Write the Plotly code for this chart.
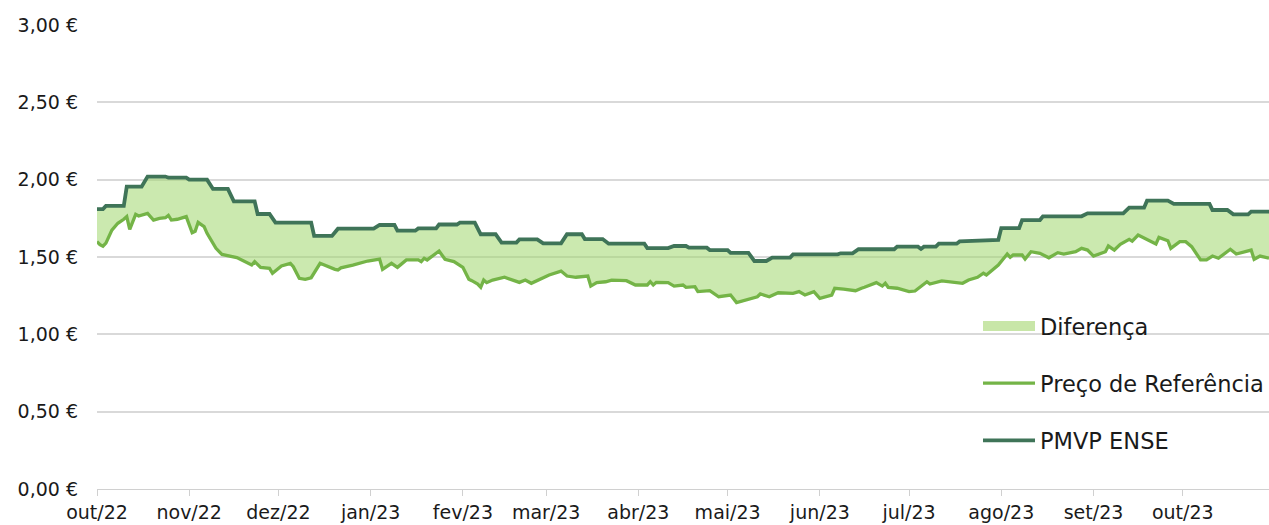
import plotly.graph_objects as go

# ---------------- data ----------------
# Preço de Referência (daily reference price)
ref_dates = [
    "2022-10-01", "2022-10-02", "2022-10-03", "2022-10-04", "2022-10-06", "2022-10-08",
    "2022-10-10", "2022-10-11", "2022-10-12", "2022-10-14", "2022-10-15", "2022-10-18",
    "2022-10-20", "2022-10-22", "2022-10-24", "2022-10-25", "2022-10-26", "2022-10-28",
    "2022-10-31", "2022-11-02", "2022-11-03", "2022-11-04", "2022-11-06", "2022-11-07",
    "2022-11-10", "2022-11-12", "2022-11-17", "2022-11-20", "2022-11-22", "2022-11-23",
    "2022-11-25", "2022-11-28", "2022-11-29", "2022-12-02", "2022-12-05", "2022-12-06",
    "2022-12-08", "2022-12-10", "2022-12-12", "2022-12-15", "2022-12-17", "2022-12-20",
    "2022-12-21", "2022-12-22", "2022-12-26", "2022-12-31", "2023-01-04", "2023-01-05",
    "2023-01-08", "2023-01-10", "2023-01-13", "2023-01-17", "2023-01-18", "2023-01-19",
    "2023-01-20", "2023-01-24", "2023-01-26", "2023-01-29", "2023-02-01", "2023-02-03",
    "2023-02-04", "2023-02-06", "2023-02-07", "2023-02-08", "2023-02-09", "2023-02-11",
    "2023-02-15", "2023-02-20", "2023-02-22", "2023-02-24", "2023-03-02", "2023-03-06",
    "2023-03-08", "2023-03-11", "2023-03-15", "2023-03-16", "2023-03-18", "2023-03-21",
    "2023-03-23", "2023-03-28", "2023-03-31", "2023-04-04", "2023-04-05", "2023-04-06",
    "2023-04-07", "2023-04-11", "2023-04-13", "2023-04-16", "2023-04-17", "2023-04-20",
    "2023-04-21", "2023-04-25", "2023-04-28", "2023-05-02", "2023-05-04", "2023-05-08",
    "2023-05-11", "2023-05-12", "2023-05-15", "2023-05-18", "2023-05-23", "2023-05-25",
    "2023-05-27", "2023-05-30", "2023-06-01", "2023-06-05", "2023-06-06", "2023-06-09",
    "2023-06-13", "2023-06-15", "2023-06-16", "2023-06-20", "2023-06-22", "2023-06-23",
    "2023-06-24", "2023-06-27", "2023-07-01", "2023-07-03", "2023-07-07", "2023-07-08",
    "2023-07-12", "2023-07-19", "2023-07-21", "2023-07-24", "2023-07-26", "2023-07-27",
    "2023-07-31", "2023-08-03", "2023-08-04", "2023-08-05", "2023-08-08", "2023-08-09",
    "2023-08-11", "2023-08-14", "2023-08-17", "2023-08-20", "2023-08-22", "2023-08-26",
    "2023-08-28", "2023-08-30", "2023-09-01", "2023-09-05", "2023-09-06", "2023-09-08",
    "2023-09-10", "2023-09-13", "2023-09-14", "2023-09-16", "2023-09-19", "2023-09-22",
    "2023-09-23", "2023-09-26", "2023-09-27", "2023-09-30", "2023-10-02", "2023-10-04",
    "2023-10-07", "2023-10-09", "2023-10-11", "2023-10-13", "2023-10-17", "2023-10-19",
    "2023-10-24", "2023-10-25", "2023-10-27", "2023-10-30",
]
ref_values = [
    1.600, 1.580, 1.570, 1.590, 1.674, 1.718,
    1.744, 1.761, 1.679, 1.776, 1.765, 1.782,
    1.739, 1.750, 1.754, 1.769, 1.739, 1.744,
    1.761, 1.657, 1.666, 1.724, 1.696, 1.653,
    1.556, 1.517, 1.496, 1.470, 1.448, 1.470,
    1.433, 1.427, 1.395, 1.442, 1.459, 1.437,
    1.362, 1.356, 1.366, 1.459, 1.442, 1.420,
    1.416, 1.430, 1.448, 1.474, 1.487, 1.420,
    1.459, 1.433, 1.481, 1.481, 1.470, 1.492,
    1.481, 1.539, 1.485, 1.470, 1.433, 1.356,
    1.347, 1.325, 1.304, 1.351, 1.334, 1.351,
    1.369, 1.336, 1.351, 1.330, 1.384, 1.409,
    1.377, 1.369, 1.377, 1.312, 1.334, 1.340,
    1.351, 1.347, 1.319, 1.319, 1.340, 1.319,
    1.336, 1.334, 1.312, 1.319, 1.304, 1.308,
    1.276, 1.282, 1.243, 1.254, 1.205, 1.228,
    1.243, 1.261, 1.243, 1.269, 1.265, 1.276,
    1.254, 1.276, 1.233, 1.254, 1.298, 1.293,
    1.282, 1.298, 1.304, 1.334, 1.312, 1.330,
    1.304, 1.298, 1.276, 1.280, 1.340, 1.325,
    1.345, 1.330, 1.351, 1.369, 1.395, 1.384,
    1.448, 1.519, 1.498, 1.513, 1.513, 1.487,
    1.534, 1.524, 1.495, 1.528, 1.519, 1.534,
    1.556, 1.545, 1.506, 1.534, 1.571, 1.545,
    1.582, 1.614, 1.603, 1.642, 1.610, 1.584,
    1.627, 1.605, 1.556, 1.599, 1.599, 1.567,
    1.481, 1.481, 1.506, 1.492, 1.550, 1.519,
    1.545, 1.485, 1.506, 1.492,
]

# PMVP ENSE (weekly average price; start/end date of each step)
pmvp_dates = [
    "2022-10-01", "2022-10-03", "2022-10-04", "2022-10-10", "2022-10-11", "2022-10-16",
    "2022-10-18", "2022-10-24", "2022-10-25", "2022-10-31", "2022-11-01", "2022-11-07",
    "2022-11-09", "2022-11-14", "2022-11-16", "2022-11-23", "2022-11-24", "2022-11-28",
    "2022-11-30", "2022-12-12", "2022-12-13", "2022-12-19", "2022-12-21", "2023-01-02",
    "2023-01-04", "2023-01-09", "2023-01-10", "2023-01-16", "2023-01-17", "2023-01-23",
    "2023-01-24", "2023-01-30", "2023-01-31", "2023-02-05", "2023-02-07", "2023-02-12",
    "2023-02-14", "2023-02-19", "2023-02-20", "2023-02-26", "2023-02-28", "2023-03-06",
    "2023-03-08", "2023-03-13", "2023-03-14", "2023-03-20", "2023-03-22", "2023-04-03",
    "2023-04-04", "2023-04-11", "2023-04-13", "2023-04-17", "2023-04-18", "2023-04-24",
    "2023-04-25", "2023-05-01", "2023-05-02", "2023-05-08", "2023-05-10", "2023-05-14",
    "2023-05-16", "2023-05-22", "2023-05-23", "2023-06-07", "2023-06-08", "2023-06-12",
    "2023-06-14", "2023-06-26", "2023-06-27", "2023-07-04", "2023-07-05", "2023-07-06",
    "2023-07-10", "2023-07-11", "2023-07-17", "2023-07-18", "2023-07-31", "2023-08-01",
    "2023-08-07", "2023-08-08", "2023-08-14", "2023-08-15", "2023-08-28", "2023-08-30",
    "2023-09-11", "2023-09-13", "2023-09-18", "2023-09-19", "2023-09-26", "2023-09-28",
    "2023-10-10", "2023-10-11", "2023-10-16", "2023-10-18", "2023-10-23", "2023-10-24",
    "2023-10-30",
]
pmvp_values = [
    1.810, 1.810, 1.830, 1.830, 1.955, 1.955,
    2.020, 2.020, 2.013, 2.013, 2.000, 2.000,
    1.940, 1.940, 1.860, 1.860, 1.778, 1.778,
    1.722, 1.722, 1.636, 1.636, 1.683, 1.683,
    1.707, 1.707, 1.670, 1.670, 1.685, 1.685,
    1.710, 1.710, 1.722, 1.722, 1.647, 1.647,
    1.593, 1.593, 1.614, 1.614, 1.588, 1.588,
    1.647, 1.647, 1.616, 1.616, 1.586, 1.586,
    1.558, 1.558, 1.571, 1.571, 1.560, 1.560,
    1.545, 1.545, 1.527, 1.527, 1.474, 1.474,
    1.496, 1.496, 1.517, 1.517, 1.524, 1.524,
    1.550, 1.550, 1.567, 1.567, 1.552, 1.567,
    1.567, 1.586, 1.586, 1.601, 1.610, 1.687,
    1.687, 1.739, 1.739, 1.763, 1.763, 1.782,
    1.782, 1.819, 1.819, 1.864, 1.864, 1.843,
    1.843, 1.804, 1.804, 1.776, 1.776, 1.793,
    1.793,
]

month_ticks = [
    "2022-10-01", "2022-11-01", "2022-12-01", "2023-01-01", "2023-02-01", "2023-03-01",
    "2023-04-01", "2023-05-01", "2023-06-01", "2023-07-01", "2023-08-01", "2023-09-01",
    "2023-10-01",
]
month_labels = [
    "out/22", "nov/22", "dez/22", "jan/23", "fev/23", "mar/23", "abr/23", "mai/23",
    "jun/23", "jul/23", "ago/23", "set/23", "out/23",
]
y_ticks = [0, 0.5, 1.0, 1.5, 2.0, 2.5, 3.0]
y_labels = ["0,00 €", "0,50 €", "1,00 €", "1,50 €", "2,00 €", "2,50 €", "3,00 €"]

# ---------------- styling ----------------
C_REF = "#74B447"
C_PMVP = "#3F7458"
C_FILL = "rgba(160, 215, 110, 0.55)"
C_FILL_SOLID = "#C8E6A8"
FONT = "DejaVu Sans"

fig = go.Figure()

# lower boundary of the difference area
fig.add_trace(go.Scatter(
    x=ref_dates, y=ref_values, mode="lines", line=dict(width=0, color=C_REF),
    showlegend=False, hoverinfo="skip", legendgroup="g0",
))
# area between the two prices (legend entry drawn by the swatch trace below)
fig.add_trace(go.Scatter(
    x=pmvp_dates, y=pmvp_values, mode="lines", line=dict(width=0, color=C_FILL),
    fill="tonexty", fillcolor=C_FILL, showlegend=False, hoverinfo="skip",
    legendgroup="g1",
))
# legend swatch for "Diferença"
fig.add_trace(go.Scatter(
    x=[None], y=[None], mode="lines", line=dict(width=13, color=C_FILL_SOLID),
    name="Diferença", legendgroup="g1",
))
fig.add_trace(go.Scatter(
    x=ref_dates, y=ref_values, mode="lines", line=dict(width=3.3, color=C_REF),
    name="Preço de Referência", legendgroup="g2",
))
fig.add_trace(go.Scatter(
    x=pmvp_dates, y=pmvp_values, mode="lines", line=dict(width=3.8, color=C_PMVP),
    name="PMVP ENSE", legendgroup="g3",
))

fig.update_layout(
    width=1269, height=525,
    margin=dict(l=97, r=0, t=25, b=36),
    paper_bgcolor="white", plot_bgcolor="white",
    font=dict(family=FONT, size=19, color="#1a1a1a"),
    legend=dict(
        x=0.752, y=0.397, xanchor="left", yanchor="top",
        bgcolor="rgba(0,0,0,0)", font=dict(size=22.5, color="#1a1a1a"),
        tracegroupgap=25, itemwidth=52,
    ),
    xaxis=dict(
        type="date", range=["2022-10-01", "2023-10-30"],
        tickmode="array", tickvals=month_ticks, ticktext=month_labels,
        ticks="outside", ticklen=6, tickcolor="#d0d0d0", tickwidth=1.3,
        showline=True, linecolor="#d0d0d0", linewidth=1.3,
        showgrid=False, zeroline=False,
        tickfont=dict(size=19),
    ),
    yaxis=dict(
        range=[0, 3], tickmode="array", tickvals=y_ticks, ticktext=y_labels,
        showgrid=True, gridcolor="#d9d9d9", gridwidth=1.5,
        zeroline=False, showline=False, ticks="", ticklabelstandoff=18,
        tickfont=dict(size=19),
    ),
)

# remove the default page margin so the figure fills the 1269x525 window exactly
fig.write_html(
    "out.html",
    config={"displayModeBar": False},
    post_script="document.body.style.margin='0px';document.body.style.overflow='hidden';",
)
